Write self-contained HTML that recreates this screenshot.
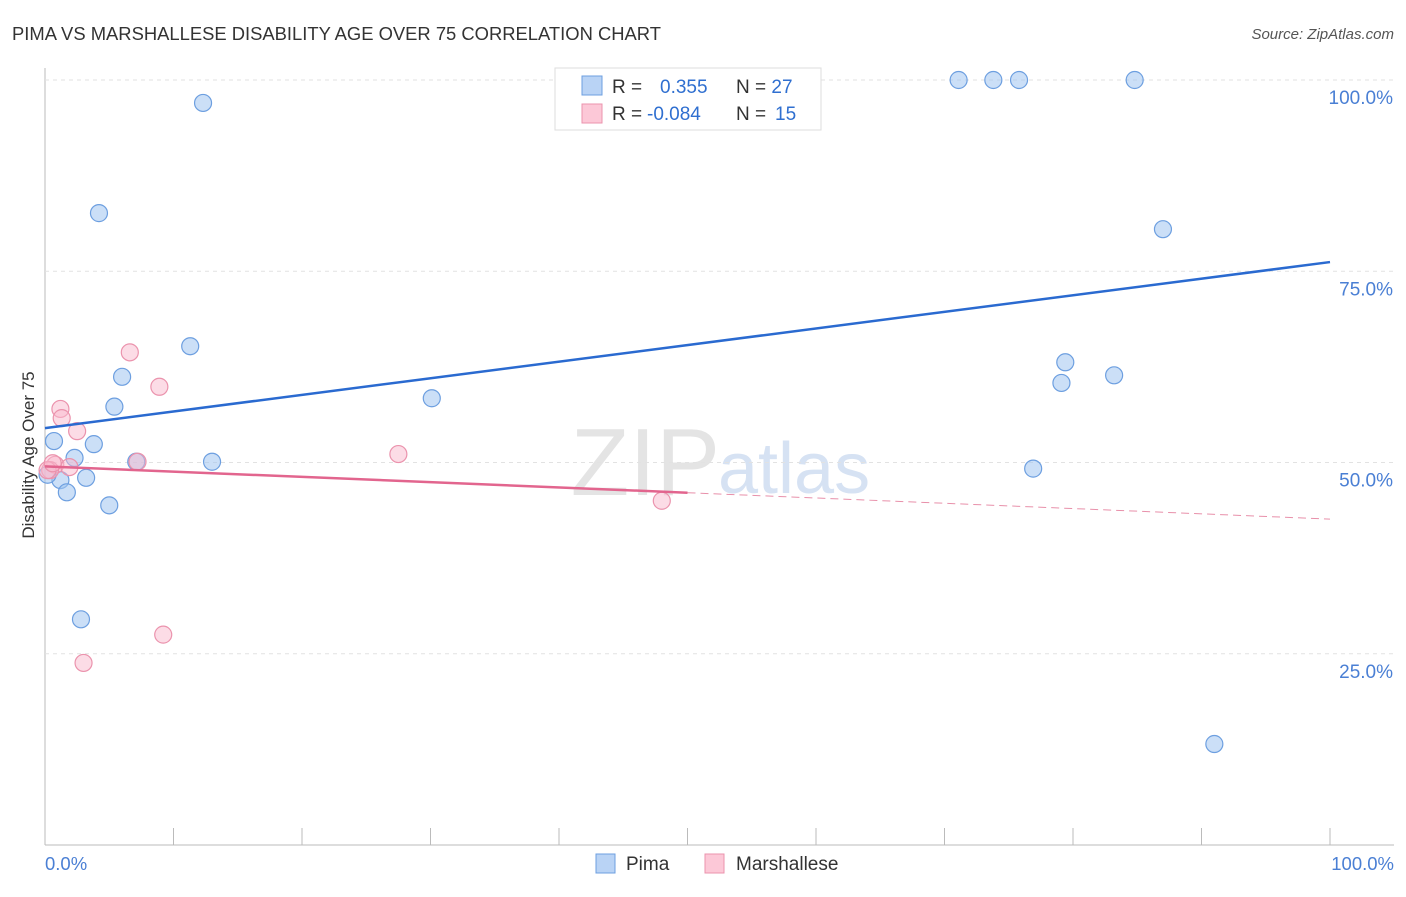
<!DOCTYPE html>
<html><head><meta charset="utf-8"><style>
body{margin:0;background:#fff;font-family:"Liberation Sans",sans-serif}
svg text{font-family:"Liberation Sans",sans-serif}
</style></head><body>
<svg id="c" width="1406" height="892">
<text x="12" y="40" font-size="18.4" fill="#333">PIMA VS MARSHALLESE DISABILITY AGE OVER 75 CORRELATION CHART</text>
<text x="1394" y="39" font-size="15" fill="#555" font-style="italic" text-anchor="end">Source: ZipAtlas.com</text>
<text x="34" y="455" font-size="17" fill="#333" text-anchor="middle" transform="rotate(-90 34 455)">Disability Age Over 75</text>
<text x="720" y="495" font-size="96" fill="#e4e4e4" text-anchor="end" font-family="Liberation Serif">ZIP</text>
<text x="718" y="493" font-size="72" fill="#d6e2f3">atlas</text>
<g id="grid"></g><g id="marks"></g>
<g>
<rect x="555" y="68" width="266" height="62" fill="#fff" stroke="#ddd"/>
<rect x="582" y="76" width="20" height="19" fill="#b9d3f5" stroke="#6d9fe0"/>
<rect x="582" y="104" width="20" height="19" fill="#fcc8d7" stroke="#eb93ad"/>
<text x="612" y="93" font-size="19" fill="#333">R = <tspan fill="#2f6fd0" x="660">0.355</tspan><tspan fill="#333" x="736">N = </tspan><tspan fill="#2f6fd0">27</tspan></text>
<text x="612" y="120" font-size="19" fill="#333">R = <tspan fill="#2f6fd0" x="647">-0.084</tspan><tspan fill="#333" x="736">N = </tspan><tspan fill="#2f6fd0" x="775">15</tspan></text>
</g>
<g>
<rect x="596" y="854" width="19" height="19" fill="#b9d3f5" stroke="#6d9fe0"/>
<text x="626" y="870" font-size="19" fill="#333">Pima</text>
<rect x="705" y="854" width="19" height="19" fill="#fcc8d7" stroke="#eb93ad"/>
<text x="736" y="870" font-size="19" fill="#333">Marshallese</text>
</g>
<text x="45" y="870" font-size="18.5" fill="#4a7fd4">0.0%</text>
<text x="1394" y="870" font-size="18.5" fill="#4a7fd4" text-anchor="end">100.0%</text>
</svg>
<script>
const pimaX=[12.3,4.2,71.1,73.8,75.8,84.8,87.0,11.3,6.0,5.4,30.1,79.4,79.1,83.2,0.7,3.8,2.3,7.1,13.0,76.9,1.2,3.2,0.2,1.7,5.0,2.8,91.0];
const pimaY=[97.0,82.6,100,100,100,100,80.5,65.2,61.2,57.3,58.4,63.1,60.4,61.4,52.8,52.4,50.6,50.1,50.1,49.2,47.7,48.0,48.4,46.1,44.4,29.5,13.2];
const marX=[6.6,8.9,1.2,1.3,2.5,0.8,0.4,1.9,7.2,27.5,48.0,9.2,3.0,0.2,0.6];
const marY=[64.4,59.9,57.0,55.8,54.1,49.7,49.0,49.4,50.1,51.1,45.0,27.5,23.8,49.0,49.9];
const yTicks=[25,50,75,100];
const yTickLabels=["25.0%","50.0%","75.0%","100.0%"];
const pimaTrend=[54.5,76.2];
const marTrend=[49.5,42.6];
const marSolidEnd=50;
const X=v=>45+v*12.85, Y=v=>845-v*7.65;
const NS="http://www.w3.org/2000/svg";
function mk(t,a,p){const e=document.createElementNS(NS,t);for(const k in a)e.setAttribute(k,a[k]);p.appendChild(e);return e;}
const g=document.getElementById('grid'), m=document.getElementById('marks');
let ax=mk('line',{x1:45,y1:68,x2:45,y2:845,stroke:'#bbb'},g);


let bx=mk('line',{x1:45,y1:845,x2:1394,y2:845,stroke:'#bbb'},g);


for(let i=1;i<=10;i++){const t=mk('line',{x1:X(i*10),y1:828,x2:X(i*10),y2:845,stroke:'#bbb'},g);

}
yTicks.forEach((v,i)=>{const l=mk('line',{x1:45,y1:Y(v),x2:1394,y2:Y(v),stroke:'#e2e2e2','stroke-dasharray':'4 4'},g);


const t=mk('text',{x:1393,y:Y(v)+24,'font-size':19,fill:'#4a7fd4','text-anchor':'end'},g);t.textContent=yTickLabels[i];

});
pimaX.forEach((x,i)=>{const c=mk('circle',{cx:X(x),cy:Y(pimaY[i]),r:8.5,fill:'rgba(160,196,240,0.55)',stroke:'#6d9fe0','stroke-width':1.2},m);

});
marX.forEach((x,i)=>{const c=mk('circle',{cx:X(x),cy:Y(marY[i]),r:8.5,fill:'rgba(250,185,205,0.5)',stroke:'#eb93ad','stroke-width':1.2},m);

});
let pl=mk('line',{x1:X(0),y1:Y(pimaTrend[0]),x2:X(100),y2:Y(pimaTrend[1]),stroke:'#2a6ad0','stroke-width':2.5},m);


const mAt=x=>marTrend[0]+(marTrend[1]-marTrend[0])*x/100;
let ml=mk('line',{x1:X(0),y1:Y(mAt(0)),x2:X(marSolidEnd),y2:Y(mAt(marSolidEnd)),stroke:'#e2658e','stroke-width':2.5},m);


let md=mk('line',{x1:X(marSolidEnd),y1:Y(mAt(marSolidEnd)),x2:X(100),y2:Y(mAt(100)),stroke:'#e890aa','stroke-width':1,'stroke-dasharray':'8 5'},m);


</script>
</body></html>
